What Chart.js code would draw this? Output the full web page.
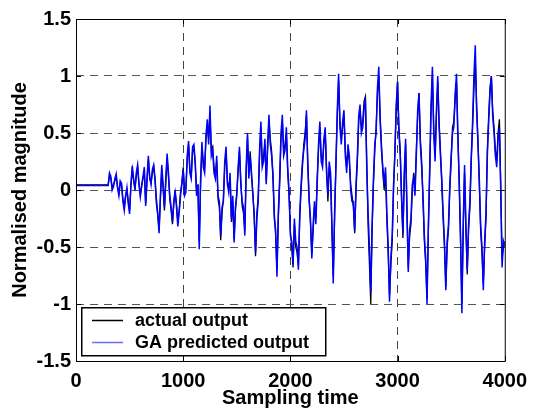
<!DOCTYPE html>
<html>
<head>
<meta charset="utf-8">
<script src="https://cdn.jsdelivr.net/npm/chart.js@4/dist/chart.umd.min.js"></script>
<style>
  html, body { margin: 0; padding: 0; background: #fff; }
  #wrap { width: 535px; height: 410px; }
</style>
</head>
<body>
<div id="wrap"><canvas id="chart" width="535" height="410"></canvas></div>
<script>
// Sampling step between read-off points
const sampleStep = 12.5;

// Actual output, every 12.5 samples (0 .. 4000), one row per 100 samples
const actualOutput = [
    0.045, 0.045, 0.045, 0.045, 0.045, 0.045, 0.045, 0.045,
    0.045, 0.045, 0.045, 0.045, 0.045, 0.045, 0.045, 0.045,
    0.045, 0.045, 0.045, 0.045, 0.045, 0.045, 0.045, 0.045,
    0.045, 0.13, 0.10, 0.02, 0.05, 0.08, 0.12, 0.03,
    -0.03, 0.06, 0.04, -0.08, -0.15, -0.05, 0.00, -0.10,
    -0.18, 0.04, 0.18, 0.08, 0.02, 0.12, 0.20, 0.06,
    -0.04, 0.03, 0.10, 0.16, -0.12, 0.08, 0.27, 0.10,
    0.06, 0.15, 0.20, 0.08, -0.12, -0.22, -0.35, -0.08,
    0.18, 0.02, -0.18, 0.06, 0.28, 0.12, -0.08, -0.18,
    -0.30, -0.12, -0.02, -0.12, -0.28, -0.18, -0.02, 0.06,
    0.20, 0.00, 0.02, 0.26, 0.40, 0.18, 0.12, 0.34,
    0.36, 0.22, -0.02, 0.02, -0.45, 0.05, 0.38, 0.25,
    0.20, 0.45, 0.57, 0.45, 0.66, 0.35, 0.38, 0.20,
    0.12, 0.25, -0.08, -0.15, -0.44, -0.20, -0.08, 0.20,
    0.34, 0.08, 0.02, 0.10, -0.28, -0.10, -0.43, -0.18,
    -0.02, 0.16, 0.34, 0.08, -0.14, -0.20, -0.36, 0.15,
    0.46, 0.15, 0.34, 0.12, -0.02, -0.25, -0.58, -0.20,
    -0.05, 0.30, 0.55, 0.25, 0.30, 0.40, 0.08, 0.35,
    0.62, 0.45, 0.34, 0.10, -0.20, -0.40, -0.70, -0.25,
    0.05, 0.45, 0.60, 0.35, 0.40, 0.50, 0.16, -0.05,
    -0.36, -0.50, -0.68, -0.30, -0.50, -0.55, -0.66, -0.25,
    0.00, 0.20, 0.40, 0.50, 0.66, 0.25, -0.05, -0.30,
    -0.56, -0.35, -0.15, -0.25, 0.10, 0.35, 0.55, 0.30,
    0.25, 0.40, 0.50, 0.20, -0.10, 0.20, 0.10, -0.35,
    -0.75, -0.25, 0.25, 0.65, 0.96, 0.60, 0.45, 0.55,
    0.65, 0.35, 0.20, 0.35, 0.25, 0.05, -0.05, -0.15,
    -0.38, 0.00, 0.25, 0.60, 0.70, 0.55, 0.60, 0.78,
    0.82, 0.25, -0.30, -0.65, -1.00, -0.35, 0.05, 0.35,
    0.55, 0.85, 1.00, 0.65, 0.40, 0.15, 0.00, 0.15,
    -0.25, -0.55, -0.92, -0.65, -0.45, 0.00, 0.35, 0.70,
    0.95, 0.55, 0.35, -0.10, -0.42, 0.10, 0.40, -0.15,
    -0.68, -0.40, -0.30, 0.00, 0.15, 0.00, 0.35, 0.65,
    0.85, 0.45, 0.25, -0.10, -0.45, -0.65, -0.95, -0.35,
    0.15, 0.70, 1.00, 0.55, 0.30, 0.65, 0.95, 0.60,
    0.35, 0.05, -0.25, -0.50, -0.85, -0.50, -0.35, 0.00,
    0.25, 0.55, 0.60, 0.80, 0.95, 0.50, 0.05, -0.45,
    -1.00, -0.35, 0.15, -0.35, -0.74, -0.35, -0.15, 0.25,
    0.55, 0.90, 1.15, 0.75, 0.45, 0.05, -0.35, -0.55,
    -0.82, -0.50, -0.25, 0.35, 0.65, 0.90, 1.00, 0.70,
    0.55, 0.35, 0.25, 0.50, 0.62, 0.05, -0.60, -0.50,
    -0.45
];

// GA predicted output, same sampling
const predictedOutput = [
    0.04, 0.04, 0.04, 0.04, 0.04, 0.04, 0.04, 0.04,
    0.04, 0.04, 0.04, 0.04, 0.04, 0.04, 0.04, 0.04,
    0.04, 0.04, 0.04, 0.04, 0.04, 0.04, 0.04, 0.04,
    0.04, 0.15, 0.12, 0.00, 0.03, 0.10, 0.14, 0.02,
    -0.05, 0.08, 0.06, -0.10, -0.18, -0.06, 0.02, -0.12,
    -0.21, 0.05, 0.21, 0.10, 0.00, 0.15, 0.22, 0.05,
    -0.06, 0.04, 0.12, 0.20, -0.14, 0.10, 0.30, 0.12,
    0.05, 0.18, 0.22, 0.10, -0.08, -0.20, -0.38, -0.05,
    0.22, 0.05, -0.15, 0.10, 0.32, 0.15, -0.05, -0.15,
    -0.28, -0.10, 0.00, -0.15, -0.32, -0.20, -0.05, 0.05,
    0.18, -0.05, -0.02, 0.30, 0.43, 0.15, 0.10, 0.38,
    0.40, 0.25, -0.05, 0.05, -0.52, 0.10, 0.42, 0.20,
    0.15, 0.48, 0.62, 0.40, 0.74, 0.30, 0.35, 0.15,
    0.10, 0.30, -0.05, -0.10, -0.40, -0.15, -0.10, 0.25,
    0.38, 0.05, -0.02, 0.15, -0.25, -0.05, -0.46, -0.15,
    -0.05, 0.20, 0.38, 0.05, -0.10, -0.15, -0.40, 0.20,
    0.50, 0.10, 0.30, 0.15, -0.05, -0.20, -0.55, -0.25,
    -0.10, 0.35, 0.60, 0.20, 0.25, 0.45, 0.05, 0.40,
    0.66, 0.40, 0.30, 0.15, -0.25, -0.35, -0.76, -0.20,
    0.10, 0.50, 0.66, 0.30, 0.35, 0.55, 0.20, 0.00,
    -0.40, -0.45, -0.65, -0.25, -0.45, -0.50, -0.70, -0.20,
    0.05, 0.25, 0.35, 0.45, 0.70, 0.20, -0.10, -0.25,
    -0.60, -0.30, -0.10, -0.30, 0.05, 0.40, 0.60, 0.25,
    0.20, 0.45, 0.55, 0.15, -0.05, 0.25, 0.15, -0.30,
    -0.82, -0.20, 0.20, 0.70, 1.02, 0.55, 0.40, 0.60,
    0.70, 0.30, 0.15, 0.40, 0.30, 0.00, -0.10, -0.10,
    -0.36, 0.05, 0.30, 0.65, 0.75, 0.50, 0.55, 0.72,
    0.78, 0.20, -0.20, -0.50, -0.90, -0.30, 0.10, 0.40,
    0.50, 0.90, 1.08, 0.60, 0.35, 0.20, 0.05, 0.20,
    -0.20, -0.50, -0.98, -0.60, -0.40, 0.05, 0.30, 0.75,
    0.95, 0.50, 0.30, -0.05, -0.38, 0.15, 0.45, -0.20,
    -0.72, -0.35, -0.25, 0.05, 0.10, -0.05, 0.30, 0.70,
    0.85, 0.40, 0.20, -0.05, -0.40, -0.60, -1.00, -0.30,
    0.20, 0.75, 1.08, 0.50, 0.25, 0.70, 1.00, 0.55,
    0.30, 0.10, -0.20, -0.45, -0.88, -0.45, -0.30, 0.05,
    0.30, 0.50, 0.55, 0.85, 1.02, 0.45, 0.10, -0.40,
    -1.08, -0.30, 0.22, -0.30, -0.70, -0.30, -0.10, 0.30,
    0.60, 1.00, 1.27, 0.70, 0.40, 0.10, -0.30, -0.50,
    -0.88, -0.45, -0.20, 0.30, 0.60, 0.85, 1.00, 0.65,
    0.50, 0.30, 0.20, 0.45, 0.55, 0.00, -0.68, -0.45,
    -0.50
];

// Axis ticks
const xTicks = [0, 1000, 2000, 3000, 4000];
const yTicks = [-1.5, -1, -0.5, 0, 0.5, 1, 1.5];

const legendLabels = ['actual output', 'GA predicted output'];

function toPoints(values) {
    return values.map((v, i) => ({ x: i * sampleStep, y: v }));
}

// Frame, inward tick marks and the boxed legend in the lower left corner
const matlabFrame = {
    id: 'matlabFrame',
    afterDraw(chart) {
        const ctx = chart.ctx;
        const a = chart.chartArea;
        const xs = chart.scales.x, ys = chart.scales.y;
        ctx.save();
        ctx.strokeStyle = '#000';
        ctx.lineWidth = 1;
        ctx.strokeRect(a.left + 0.5, a.top + 0.5, a.right - a.left, a.bottom - a.top);
        ctx.beginPath();
        xTicks.forEach(t => {
            const px = Math.round(xs.getPixelForValue(t)) + 0.5;
            ctx.moveTo(px, a.bottom); ctx.lineTo(px, a.bottom - 5);
            ctx.moveTo(px, a.top); ctx.lineTo(px, a.top + 5);
        });
        yTicks.forEach(t => {
            const py = Math.round(ys.getPixelForValue(t)) + 0.5;
            ctx.moveTo(a.left, py); ctx.lineTo(a.left + 5, py);
            ctx.moveTo(a.right, py); ctx.lineTo(a.right - 5, py);
        });
        ctx.stroke();

        // legend box
        const bx = 81, by = 307, bw = 244, bh = 48;
        ctx.fillStyle = '#fff';
        ctx.fillRect(bx, by, bw, bh);
        ctx.lineWidth = 1.5;
        ctx.strokeRect(bx + 0.75, by + 0.75, bw, bh);
        const colors = ['#000', '#6a6aff'];
        const rows = [320, 342];
        ctx.font = 'bold 18px "Liberation Sans", Arial, sans-serif';
        ctx.textBaseline = 'middle';
        rows.forEach((ry, i) => {
            ctx.strokeStyle = colors[i];
            ctx.lineWidth = 1.5;
            ctx.beginPath();
            ctx.moveTo(92, ry + 0.5); ctx.lineTo(123, ry + 0.5);
            ctx.stroke();
            ctx.fillStyle = '#000';
            ctx.fillText(legendLabels[i], 135, ry + 1);
        });
        ctx.restore();
    }
};

const font = { family: '"Liberation Sans", Arial, sans-serif', weight: 'bold', size: 20 };

new Chart(document.getElementById('chart').getContext('2d'), {
    type: 'line',
    data: {
        datasets: [
            {
                // first dataset is painted last, so the prediction sits on top
                label: legendLabels[1],
                data: toPoints(predictedOutput),
                borderColor: '#0000ff',
                borderWidth: 1.5,
                pointRadius: 0,
                tension: 0
            },
            {
                label: legendLabels[0],
                data: toPoints(actualOutput),
                borderColor: '#000000',
                borderWidth: 1.3,
                pointRadius: 0,
                tension: 0
            }
        ]
    },
    options: {
        responsive: false,
        animation: false,
        events: [],
        layout: { padding: { top: 19, right: 23, left: 0, bottom: 0 } },
        plugins: {
            legend: { display: false },
            tooltip: { enabled: false }
        },
        scales: {
            x: {
                type: 'linear',
                min: 0,
                max: 4000,
                afterBuildTicks: s => { s.ticks = xTicks.map(v => ({ value: v })); },
                afterFit: s => { s.height = 49; },
                ticks: { font: font, color: '#000', padding: 8, maxRotation: 0, callback: v => String(v) },
                grid: {
                    drawTicks: false,
                    color: c => (c.tick.value === 0 || c.tick.value === 4000) ? 'rgba(0,0,0,0)' : '#444'
                },
                border: { display: false, dash: [8, 6] },
                title: { display: true, text: 'Sampling time', font: font, color: '#000', padding: { top: 0, bottom: 0 } }
            },
            y: {
                min: -1.5,
                max: 1.5,
                afterBuildTicks: s => { s.ticks = yTicks.map(v => ({ value: v })); },
                afterFit: s => { s.width = 76; },
                ticks: { font: font, color: '#000', padding: 5, callback: v => String(v) },
                grid: {
                    drawTicks: false,
                    color: c => (c.tick.value === -1.5 || c.tick.value === 1.5) ? 'rgba(0,0,0,0)' : '#555'
                },
                border: { display: false, dash: [8, 6] },
                title: { display: true, text: 'Normalised magnitude', font: font, color: '#000', padding: { top: 8, bottom: 0 } }
            }
        }
    },
    plugins: [matlabFrame]
});
</script>
</body>
</html>
